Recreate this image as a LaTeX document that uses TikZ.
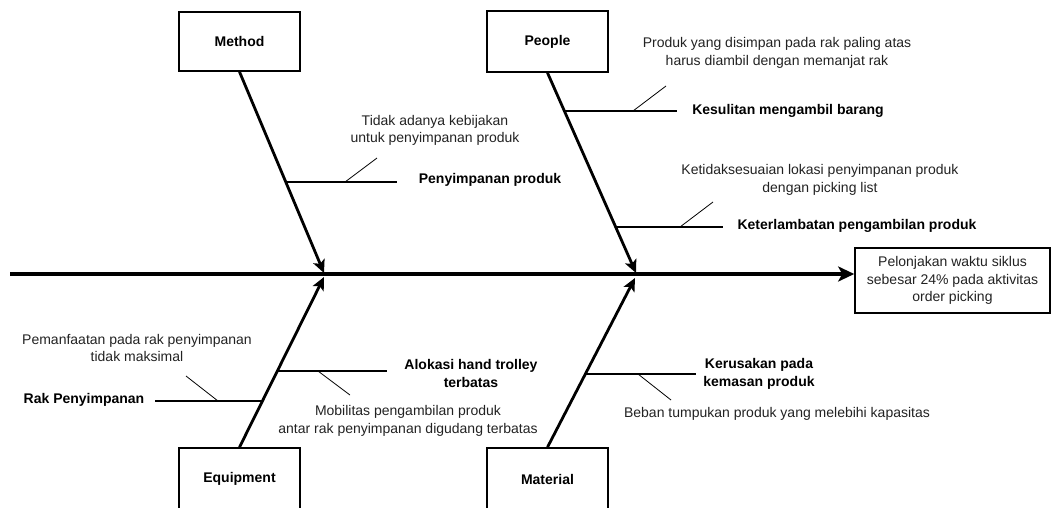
\documentclass[tikz,border=0pt]{standalone}
\usepackage{fontspec}
\setmainfont{Liberation Sans}
\usetikzlibrary{arrows.meta}
\definecolor{txtgray}{HTML}{222222}
\begin{document}
\begin{tikzpicture}[x=1pt,y=-1pt,
  catbox/.style={draw, line width=1.6pt, minimum width=121pt, inner sep=0pt, font=\fontsize{14}{17}\selectfont\bfseries},
  resbox/.style={draw, line width=1.6pt, minimum width=195pt, minimum height=65pt, inner sep=0pt, align=center, font=\fontsize{14}{17.5}\selectfont, text=txtgray},
  spine/.style={line width=3.6pt, -{Stealth[length=16pt,width=15pt,inset=4pt]}},
  bone/.style={line width=2.8pt, -{Stealth[length=13pt,width=12pt,inset=3pt]}},
  sub/.style={line width=1.8pt},
  tick/.style={line width=0.8pt},
  cause/.style={inner sep=0pt, align=center, font=\fontsize{14}{17.5}\selectfont, text=txtgray},
  label/.style={inner sep=0pt, align=center, font=\fontsize{14}{17.5}\selectfont\bfseries}
]
\useasboundingbox (0,0) rectangle (1053,507);

% category boxes
\node[catbox, minimum height=59pt] (method) at (239.5,41.5) {Method};
\node[catbox, minimum height=61pt] (people) at (547.5,41.5) {People};
\node[catbox, minimum height=62pt] (equip) at (239.5,479) {Equipment};
\node[catbox, minimum height=62pt] (mater) at (547.5,479) {Material};
\node[resbox] (res) at (952.5,280.5) {Pelonjakan waktu siklus\\sebesar 24\% pada aktivitas\\order picking};

% spine
\coordinate (tail) at (10,274);
\draw[spine] (tail) -- (res.west |- tail);

% main bones
\coordinate (mtip) at (324,273);
\coordinate (ptip) at (636,273);
\coordinate (etip) at (324,277);
\coordinate (matip) at (635,278);
\draw[bone] (method.south) -- (mtip);
\draw[bone] (people.south) -- (ptip);
\draw[bone] (equip.north) -- (etip);
\draw[bone] (mater.north) -- (matip);

% sub bones
\coordinate (m1) at (286,182);   \coordinate (m1e) at (397,182);
\coordinate (p1) at (565,111);   \coordinate (p1e) at (677,111);
\coordinate (p2) at (616,227);   \coordinate (p2e) at (723,227);
\coordinate (e1) at (263,401);   \coordinate (e1e) at (155,401);
\coordinate (e2) at (278,371);   \coordinate (e2e) at (387,371);
\coordinate (ma1) at (586,374);  \coordinate (ma1e) at (696,374);
\draw[sub] (m1) -- (m1e);
\draw[sub] (p1) -- (p1e);
\draw[sub] (p2) -- (p2e);
\draw[sub] (e1) -- (e1e);
\draw[sub] (e2) -- (e2e);
\draw[sub] (ma1) -- (ma1e);

% ticks
\coordinate (t1a) at (345,182); \coordinate (t1b) at (377,158);
\coordinate (t2a) at (633,111); \coordinate (t2b) at (666,86);
\coordinate (t3a) at (680,227); \coordinate (t3b) at (713,202);
\coordinate (t4a) at (218,401); \coordinate (t4b) at (186,376);
\coordinate (t5a) at (318,371); \coordinate (t5b) at (350,395);
\coordinate (t6a) at (638,374); \coordinate (t6b) at (671,400);
\draw[tick] (t1a) -- (t1b);
\draw[tick] (t2a) -- (t2b);
\draw[tick] (t3a) -- (t3b);
\draw[tick] (t4a) -- (t4b);
\draw[tick] (t5a) -- (t5b);
\draw[tick] (t6a) -- (t6b);

% texts
\node[cause] (c1) at (435,130.5) {Tidak adanya kebijakan\\untuk penyimpanan produk};
\node[label] (l1) at (490,180) {Penyimpanan produk};
\node[cause] (c2) at (777,53) {Produk yang disimpan pada rak paling atas\\harus diambil dengan memanjat rak};
\node[label] (l2) at (788,111) {Kesulitan mengambil barang};
\node[cause] (c3) at (820,180) {Ketidaksesuaian lokasi penyimpanan produk\\dengan picking list};
\node[label] (l3) at (857,226) {Keterlambatan pengambilan produk};
\node[cause] (c4) at (137,348) {Pemanfaatan pada rak penyimpanan\\tidak maksimal};
\node[label] (l4) at (84,400) {Rak Penyimpanan};
\node[label] (l5) at (471,373.5) {Alokasi hand trolley\\terbatas};
\node[cause] (c5) at (408,421) {Mobilitas pengambilan produk\\antar rak penyimpanan digudang terbatas};
\node[label] (l6) at (759,374) {Kerusakan pada\\kemasan produk};
\node[cause] (c6) at (777,414) {Beban tumpukan produk yang melebihi kapasitas};
\end{tikzpicture}
\end{document}
